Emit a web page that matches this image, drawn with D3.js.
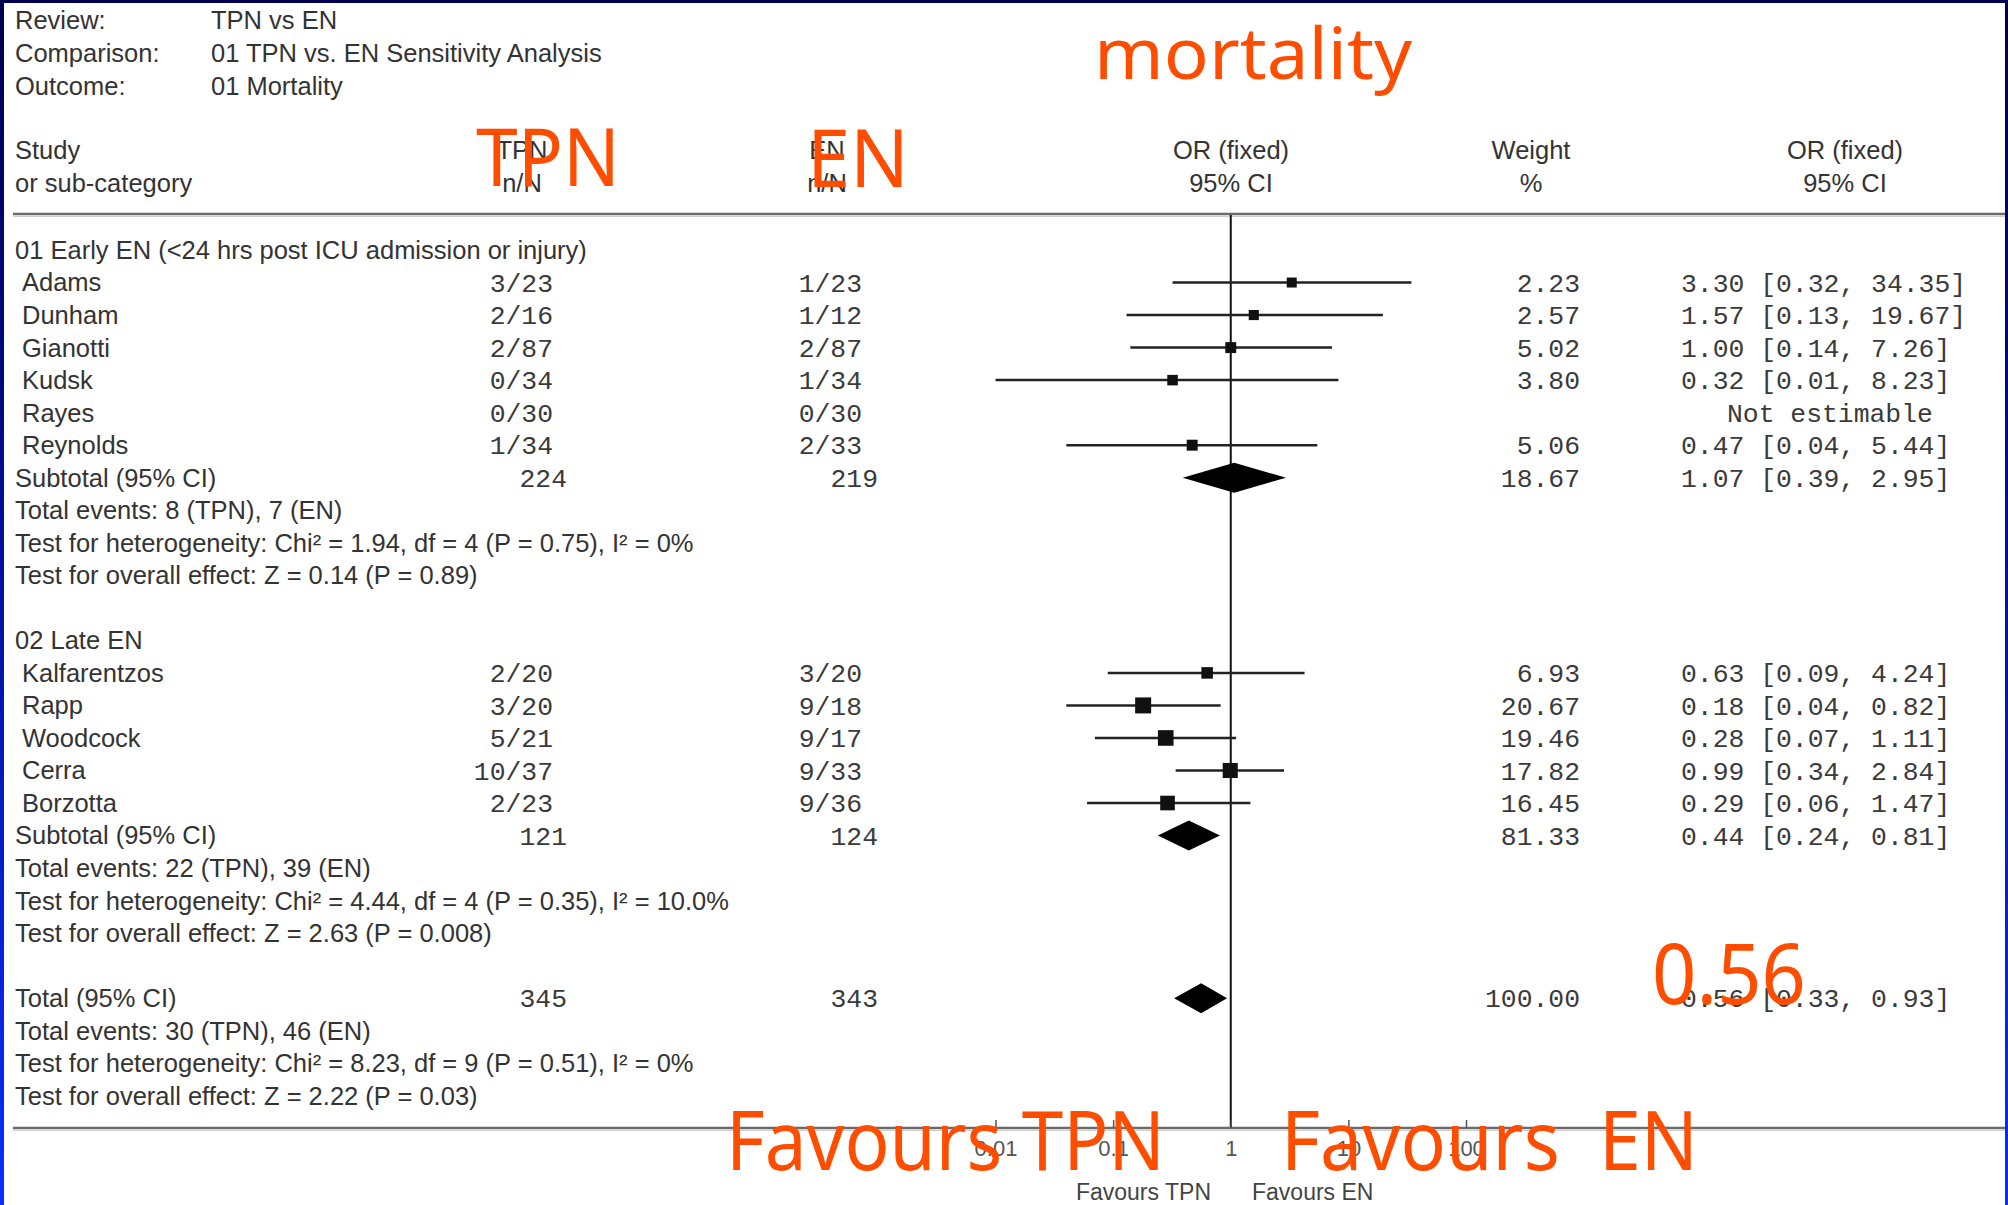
<!DOCTYPE html>
<html>
<head>
<meta charset="utf-8">
<script src="https://cdn.jsdelivr.net/npm/d3@7"></script>
<style>
  html, body { margin: 0; padding: 0; background: #ffffff; }
  svg { display: block; }
</style>
</head>
<body>
<svg id="chart" width="2008" height="1205"></svg>
<script>
// ---------------- DATA ----------------
const headerLabels = ["Review:", "Comparison:", "Outcome:"];
const headerValues = ["TPN vs EN", "01 TPN vs. EN Sensitivity Analysis", "01 Mortality"];

const groupTitles = ["01 Early EN (<24 hrs post ICU admission or injury)", "02 Late EN"];

const studyNames = ["Adams", "Dunham", "Gianotti", "Kudsk", "Rayes", "Reynolds",
                    "Kalfarentzos", "Rapp", "Woodcock", "Cerra", "Borzotta"];
const studyGroup = [0, 0, 0, 0, 0, 0, 1, 1, 1, 1, 1];
const tpnEvents = [3, 2, 2, 0, 0, 1, 2, 3, 5, 10, 2];
const tpnTotal  = [23, 16, 87, 34, 30, 34, 20, 20, 21, 37, 23];
const enEvents  = [1, 1, 2, 1, 0, 2, 3, 9, 9, 9, 9];
const enTotal   = [23, 12, 87, 34, 30, 33, 20, 18, 17, 33, 36];
const studyWeight = [2.23, 2.57, 5.02, 3.80, null, 5.06, 6.93, 20.67, 19.46, 17.82, 16.45];
const studyOR     = [3.30, 1.57, 1.00, 0.32, null, 0.47, 0.63, 0.18, 0.28, 0.99, 0.29];
const studyLow    = [0.32, 0.13, 0.14, 0.01, null, 0.04, 0.09, 0.04, 0.07, 0.34, 0.06];
const studyHigh   = [34.35, 19.67, 7.26, 8.23, null, 5.44, 4.24, 0.82, 1.11, 2.84, 1.47];

const summaryLabels = ["Subtotal (95% CI)", "Subtotal (95% CI)", "Total (95% CI)"];
const summaryTpnN   = [224, 121, 345];
const summaryEnN    = [219, 124, 343];
const summaryWeight = [18.67, 81.33, 100.00];
const summaryOR     = [1.07, 0.44, 0.56];
const summaryLow    = [0.39, 0.24, 0.33];
const summaryHigh   = [2.95, 0.81, 0.93];

const summaryNotes = [
  ["Total events: 8 (TPN), 7 (EN)",
   "Test for heterogeneity: Chi\u00B2 = 1.94, df = 4 (P = 0.75), I\u00B2 = 0%",
   "Test for overall effect: Z = 0.14 (P = 0.89)"],
  ["Total events: 22 (TPN), 39 (EN)",
   "Test for heterogeneity: Chi\u00B2 = 4.44, df = 4 (P = 0.35), I\u00B2 = 10.0%",
   "Test for overall effect: Z = 2.63 (P = 0.008)"],
  ["Total events: 30 (TPN), 46 (EN)",
   "Test for heterogeneity: Chi\u00B2 = 8.23, df = 9 (P = 0.51), I\u00B2 = 0%",
   "Test for overall effect: Z = 2.22 (P = 0.03)"]
];

const tickValues = [0.01, 0.1, 1, 10, 100];
const tickLabels = ["0.01", "0.1", "1", "10", "100"];
const favourLabels = ["Favours TPN", "Favours EN"];

const annotations = ["mortality", "TPN", "EN", "0.56", "Favours TPN", "Favours  EN"];

// ---------------- DRAW ----------------
const W = 2008, H = 1205;
const svg = d3.select("#chart");
const SANS = "'Liberation Sans', Arial, sans-serif";
const MONO = "'Liberation Mono', 'Courier New', monospace";
const TXT = "#333";
const MTXT = "#3a3a3a";
const FS = 25.5;

// frame gradient
const defs = svg.append("defs");
const grad = defs.append("linearGradient").attr("id", "edge")
  .attr("x1", 0).attr("y1", 0).attr("x2", 0).attr("y2", 1);
grad.append("stop").attr("offset", "0%").attr("stop-color", "#000050");
grad.append("stop").attr("offset", "35%").attr("stop-color", "#000a8a");
grad.append("stop").attr("offset", "100%").attr("stop-color", "#0a2eff");

svg.append("rect").attr("x", 0).attr("y", 0).attr("width", W).attr("height", H).attr("fill", "#fff");
svg.append("rect").attr("x", 0).attr("y", 0).attr("width", W).attr("height", 3).attr("fill", "#000050");
svg.append("rect").attr("x", 0).attr("y", 0).attr("width", 4).attr("height", H).attr("fill", "url(#edge)");
svg.append("rect").attr("x", W - 3).attr("y", 0).attr("width", 3).attr("height", H).attr("fill", "url(#edge)");

// scales
const rowY = d3.scaleLinear().domain([0, 26]).range([250, 1095.8]);
const x = d3.scaleLog().domain([0.01, 100]).range([995.5, 1466]);
const sq = d3.scaleLinear().domain([2.23, 20.67]).range([10, 16]);

// header block
const hdr = svg.append("g").attr("font-family", SANS).attr("font-size", FS).attr("fill", TXT);
const hdrY = [20.5, 53, 86];
headerLabels.forEach((t, i) => {
  hdr.append("text").attr("x", 15).attr("y", hdrY[i]).attr("dy", "0.35em").text(t);
  hdr.append("text").attr("x", 211).attr("y", hdrY[i]).attr("dy", "0.35em").text(headerValues[i]);
});

// column headers
const colHead = [
  { x: 15, a: "start", l1: "Study", l2: "or sub-category" },
  { x: 522, a: "middle", l1: "TPN", l2: "n/N" },
  { x: 827, a: "middle", l1: "EN", l2: "n/N" },
  { x: 1231, a: "middle", l1: "OR (fixed)", l2: "95% CI" },
  { x: 1531, a: "middle", l1: "Weight", l2: "%" },
  { x: 1845, a: "middle", l1: "OR (fixed)", l2: "95% CI" }
];
colHead.forEach(c => {
  hdr.append("text").attr("x", c.x).attr("y", 150).attr("dy", "0.35em").attr("text-anchor", c.a).text(c.l1);
  hdr.append("text").attr("x", c.x).attr("y", 183).attr("dy", "0.35em").attr("text-anchor", c.a).text(c.l2);
});

// header rule
svg.append("line").attr("x1", 13).attr("x2", W - 3).attr("y1", 214).attr("y2", 214)
  .attr("stroke", "#6a6a6a").attr("stroke-width", 2.5);
svg.append("line").attr("x1", 13).attr("x2", W - 3).attr("y1", 216.5).attr("y2", 216.5)
  .attr("stroke", "#cfcfcf").attr("stroke-width", 1);

// vertical line of no effect
svg.append("line").attr("x1", x(1)).attr("x2", x(1)).attr("y1", 215).attr("y2", 1128)
  .attr("stroke", "#111").attr("stroke-width", 2);

// compute row positions
const studyRow = [];
let r = 1, prevG = 0;
studyNames.forEach((n, i) => {
  if (studyGroup[i] !== prevG) { r += 6; prevG = studyGroup[i]; }
  studyRow.push(r); r++;
});
const titleRow = [0, 12];
const summaryRow = [7, 18, 23];

const body = svg.append("g");
const txt = (t, xx, yy, anchor, font, size, fill) =>
  body.append("text").attr("x", xx).attr("y", yy).attr("dy", "0.35em")
    .attr("text-anchor", anchor || "start").attr("font-family", font || SANS)
    .attr("font-size", size || FS).attr("fill", fill || TXT).text(t);

groupTitles.forEach((t, g) => txt(t, 15, rowY(titleRow[g])));

// studies
studyNames.forEach((n, i) => {
  const y = rowY(studyRow[i]);
  txt(n, 22, y);
  txt(tpnEvents[i] + "/" + tpnTotal[i], 553, y, "end", MONO, 26.4, MTXT);
  txt(enEvents[i] + "/" + enTotal[i], 862, y, "end", MONO, 26.4, MTXT);
  if (studyOR[i] == null) {
    txt("Not estimable", 1727, y, "start", MONO, 26.4, MTXT);
  } else {
    txt(studyWeight[i].toFixed(2), 1580, y, "end", MONO, 26.4, MTXT);
    txt(studyOR[i].toFixed(2) + " [" + studyLow[i].toFixed(2) + ", " + studyHigh[i].toFixed(2) + "]",
        1681, y, "start", MONO, 26.4, MTXT);
    body.append("line").attr("x1", x(studyLow[i])).attr("x2", x(studyHigh[i]))
      .attr("y1", y).attr("y2", y).attr("stroke", "#222").attr("stroke-width", 2.5);
    const s = sq(studyWeight[i]);
    body.append("rect").attr("x", x(studyOR[i]) - s / 2).attr("y", y - s / 2)
      .attr("width", s).attr("height", s).attr("fill", "#111");
  }
});

// summaries
summaryLabels.forEach((l, k) => {
  const y = rowY(summaryRow[k]);
  txt(l, 15, y);
  txt(String(summaryTpnN[k]), 567, y, "end", MONO, 26.4, MTXT);
  txt(String(summaryEnN[k]), 878, y, "end", MONO, 26.4, MTXT);
  txt(summaryWeight[k].toFixed(2), 1580, y, "end", MONO, 26.4, MTXT);
  txt(summaryOR[k].toFixed(2) + " [" + summaryLow[k].toFixed(2) + ", " + summaryHigh[k].toFixed(2) + "]",
      1681, y, "start", MONO, 26.4, MTXT);
  const hh = 15;
  const pts = [[x(summaryLow[k]), y], [x(summaryOR[k]), y - hh], [x(summaryHigh[k]), y], [x(summaryOR[k]), y + hh]];
  body.append("path").attr("d", d3.line()(pts) + "Z").attr("fill", "#000");
  summaryNotes[k].forEach((t, j) => txt(t, 15, rowY(summaryRow[k] + 1 + j)));
});

// bottom axis
svg.append("line").attr("x1", 13).attr("x2", W - 3).attr("y1", 1128).attr("y2", 1128)
  .attr("stroke", "#6a6a6a").attr("stroke-width", 2.5);
svg.append("line").attr("x1", 13).attr("x2", W - 3).attr("y1", 1130.5).attr("y2", 1130.5)
  .attr("stroke", "#cfcfcf").attr("stroke-width", 1);

const axis = d3.axisBottom(x).tickValues(tickValues)
  .tickFormat((d, i) => tickLabels[i]).tickSizeInner(-8).tickSizeOuter(0).tickPadding(12);
const ag = svg.append("g").attr("transform", "translate(0,1128)").call(axis);
ag.select(".domain").remove();
ag.selectAll(".tick line").attr("stroke", "#555").attr("stroke-width", 1.5);
ag.selectAll(".tick text").attr("font-family", SANS).attr("font-size", 22).attr("fill", "#555");

svg.append("text").attr("x", 1211).attr("y", 1192).attr("dy", "0.35em").attr("text-anchor", "end")
  .attr("font-family", SANS).attr("font-size", 23).attr("fill", "#444").text(favourLabels[0]);
svg.append("text").attr("x", 1252).attr("y", 1192).attr("dy", "0.35em").attr("text-anchor", "start")
  .attr("font-family", SANS).attr("font-size", 23).attr("fill", "#444").text(favourLabels[1]);

// orange hand annotations
const ORANGE = "#ff4d00";
const ann = [
  { t: annotations[0], x: 1094, y: 79, w: 318, s: 72 },
  { t: annotations[1], x: 476, y: 186, w: 144, s: 80 },
  { t: annotations[2], x: 807, y: 187, w: 102, s: 80 },
  { t: annotations[3], x: 1652, y: 1004, w: 154, s: 84 },
  { t: annotations[4], x: 726, y: 1170, w: 439, s: 82 },
  { t: annotations[5], x: 1281, y: 1170, w: 417, s: 82 }
];
const ag2 = svg.append("g").attr("font-family", "'Noto Sans', 'Open Sans', sans-serif").attr("fill", ORANGE);
ann.forEach(a => {
  ag2.append("text").attr("x", a.x).attr("y", a.y).attr("font-size", a.s)
    .attr("textLength", a.w).attr("lengthAdjust", "spacingAndGlyphs")
    .style("white-space", "pre").text(a.t);
});
</script>
</body>
</html>
